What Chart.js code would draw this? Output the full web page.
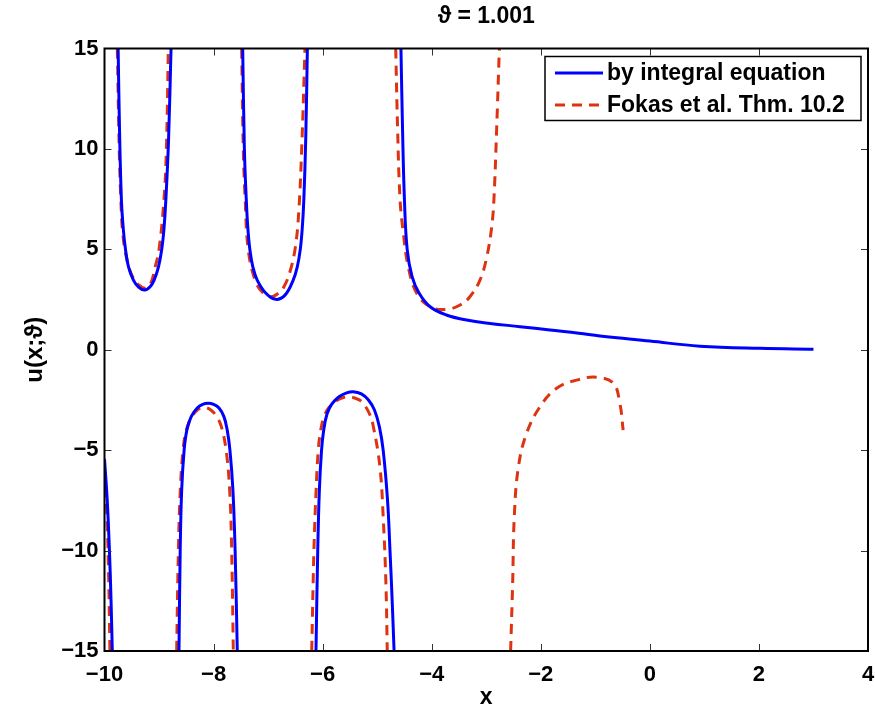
<!DOCTYPE html>
<html>
<head>
<meta charset="utf-8">
<title>u(x;theta)</title>
<script src="https://cdn.jsdelivr.net/npm/chart.js@4"></script>
<style>
  body { margin: 0; background: #fff; }
</style>
</head>
<body>
<canvas id="chart" width="875" height="705"></canvas>
<script>
// branches are separated by null
const blueX = [
  -9.75, -9.725, -9.69, -9.655, -9.615, -9.56, -9.47, -9.37, -9.263, -9.16, -9.09, -9.01, -8.95, -8.91, -8.875, -8.825, -8.78, null,
  -7.466, -7.435, -7.40, -7.37, -7.335, -7.28, -7.20, -7.04, -6.861, -6.69, -6.54, -6.465, -6.41, -6.375, -6.345, -6.31, -6.28, null,
  -4.564, -4.535, -4.50, -4.45, -4.36, -4.23, -4.03, -3.73, -3.36, -2.93, -2.38, -1.83, -1.3, -0.915, 0, 0.917, 2.02, 3.0, null,
  -10, -9.95, -9.91, -9.88, -9.857, null,
  -8.634, -8.612, -8.585, -8.54, -8.49, -8.41, -8.30, -8.20, -8.10, -8.0, -7.90, -7.81, -7.75, -7.70, -7.645, -7.605, -7.565, null,
  -6.122, -6.09, -6.06, -6.02, -5.98, -5.92, -5.83, -5.70, -5.56, -5.44, -5.29, -5.16, -5.05, -4.96, -4.89, -4.81, -4.765, -4.725, -4.69
];
const blueY = [
  15, 11, 7.46, 6, 5, 4.13, 3.47, 3.1, 2.97, 3.15, 3.47, 4.13, 5, 6, 7.46, 10.5, 15, null,
  15, 10, 7.46, 6, 5, 4.13, 3.47, 2.81, 2.51, 2.72, 3.47, 4.13, 5, 6, 7.46, 10.5, 15, null,
  15, 11, 7.46, 5, 3.64, 2.81, 2.14, 1.73, 1.48, 1.31, 1.15, 0.98, 0.82, 0.68, 0.43, 0.18, 0.07, 0.03, null,
  -5.45, -7.5, -9.97, -12.5, -15, null,
  -15, -10, -7, -5, -4, -3.33, -2.9, -2.72, -2.67, -2.72, -2.9, -3.33, -4, -5, -7, -10, -15, null,
  -15, -10, -7, -5, -4, -3.2, -2.7, -2.34, -2.15, -2.09, -2.2, -2.5, -3.0, -3.83, -5, -7.5, -10, -12.5, -15
];
const redX = [
  -9.765, -9.73, -9.70, -9.665, -9.59, -9.48, -9.36, -9.245, -9.153, -9.07, -9.0, -8.91, -8.865, -8.83, null,
  -7.485, -7.455, -7.42, -7.365, -7.24, -7.1, -6.953, -6.82, -6.709, -6.59, -6.50, -6.44, -6.384, -6.324, null,
  -4.66, -4.625, -4.58, -4.52, -4.43, -4.275, -4.03, -3.73, -3.48, -3.3, -3.115, -2.99, -2.9, -2.86, -2.81, -2.76, null,
  -10, -9.96, -9.93, -9.90, null,
  -8.677, -8.645, -8.61, -8.56, -8.50, -8.41, -8.30, -8.176, -8.05, -7.95, -7.86, -7.77, -7.705, -7.668, -7.638, null,
  -6.2, -6.16, -6.12, -6.08, -6.035, -5.97, -5.89, -5.78, -5.62, -5.48, -5.33, -5.255, -5.14, -5.07, -4.95, -4.89, -4.84, -4.815, null,
  -2.553, -2.516, -2.486, -2.41, -2.26, -2.015, -1.71, -1.34, -0.975, -0.67, -0.55, -0.49
];
const redY = [
  15, 10, 7.46, 5.8, 4.5, 3.6, 3.2, 3.06, 3.3, 4.13, 5, 7.46, 10, 15, null,
  15, 10, 7.46, 5, 3.47, 2.85, 2.64, 2.8, 3.14, 3.97, 5.12, 6.78, 10, 15, null,
  15, 10.94, 7.46, 5.8, 4.13, 2.81, 2.14, 2.01, 2.23, 2.64, 3.47, 4.63, 6.12, 7.46, 10.94, 15, null,
  -6.0, -8, -10.5, -15, null,
  -15, -10, -7, -5, -4, -3.4, -3.0, -2.87, -3.0, -3.3, -3.8, -5, -7, -10, -15, null,
  -15, -10, -7, -5, -4, -3.3, -2.9, -2.6, -2.38, -2.36, -2.5, -2.67, -3.2, -3.83, -5.83, -8.32, -11.63, -15, null,
  -15, -11.63, -8.32, -5.83, -4.16, -2.84, -1.92, -1.51, -1.37, -1.67, -2.67, -4.0
];
const seriesLabels = ['by integral equation', 'Fokas et al. Thm. 10.2'];
const xTicks = [-10, -8, -6, -4, -2, 0, 2, 4];
const yTicks = [-15, -10, -5, 0, 5, 10, 15];

const FONT = "'Liberation Sans', Arial, Helvetica, sans-serif";
const BLUE = '#0000FF';
const RED = '#DD3311';

function toPoints(xs, ys) {
    return xs.map((x, i) => ({ x: x === null ? NaN : x, y: ys[i] }));
}

function minus(v) {
    return String(v).replace('-', '\u2212');
}

// box with inward ticks, matlab style
const frame = {
    id: 'frame',
    afterDatasetsDraw(chart) {
        const { ctx, chartArea: a, scales: { x, y } } = chart;
        ctx.save();
        ctx.strokeStyle = '#333';
        ctx.lineWidth = 1;
        ctx.beginPath();
        xTicks.slice(1, -1).forEach(v => {
            const px = Math.round(x.getPixelForValue(v)) + 0.5;
            ctx.moveTo(px, a.bottom); ctx.lineTo(px, a.bottom - 7);
            ctx.moveTo(px, a.top); ctx.lineTo(px, a.top + 7);
        });
        yTicks.slice(1, -1).forEach(v => {
            const py = Math.round(y.getPixelForValue(v)) + 0.5;
            ctx.moveTo(a.left, py); ctx.lineTo(a.left + 7, py);
            ctx.moveTo(a.right, py); ctx.lineTo(a.right - 7, py);
        });
        ctx.stroke();
        ctx.strokeStyle = '#000';
        ctx.lineWidth = 2;
        ctx.strokeRect(a.left, a.top, a.right - a.left, a.bottom - a.top);
        ctx.restore();
    }
};

const boxLegend = {
    id: 'boxLegend',
    afterDraw(chart) {
        const { ctx, chartArea: a } = chart;
        const right = a.right - 7, top = a.top + 8;
        const w = 316, h = 64;
        const left = right - w;
        ctx.save();
        ctx.fillStyle = '#fff';
        ctx.fillRect(left, top, w, h);
        ctx.strokeStyle = '#000';
        ctx.lineWidth = 1.5;
        ctx.strokeRect(left, top, w, h);
        chart.data.datasets.forEach((ds, i) => {
            const cy = top + 16.5 + i * 32;
            ctx.beginPath();
            ctx.strokeStyle = ds.borderColor;
            ctx.lineWidth = 3;
            ctx.setLineDash(ds.borderDash || []);
            ctx.moveTo(left + 10, cy);
            ctx.lineTo(left + 58, cy);
            ctx.stroke();
            ctx.setLineDash([]);
            ctx.fillStyle = '#000';
            ctx.font = 'bold 23px ' + FONT;
            ctx.textBaseline = 'middle';
            ctx.textAlign = 'left';
            ctx.fillText(ds.label, left + 62, cy + 1);
        });
        ctx.restore();
    }
};

new Chart(document.getElementById('chart').getContext('2d'), {
    type: 'scatter',
    data: {
        datasets: [{
            label: seriesLabels[0],
            data: toPoints(blueX, blueY),
            showLine: true,
            borderColor: BLUE,
            borderWidth: 3,
            pointRadius: 0,
            tension: 0.4,
            spanGaps: false
        }, {
            label: seriesLabels[1],
            data: toPoints(redX, redY),
            showLine: true,
            borderColor: RED,
            borderWidth: 3,
            borderDash: [10, 7],
            pointRadius: 0,
            tension: 0.4,
            spanGaps: false
        }]
    },
    options: {
        responsive: false,
        animation: false,
        layout: { padding: { left: 0, right: 7, top: 0, bottom: 0 } },
        plugins: {
            legend: { display: false },
            tooltip: { enabled: false },
            title: {
                display: true,
                fullSize: false,
                text: '\u03D1 = 1.001',
                color: '#000',
                font: { family: FONT, size: 23, weight: 'bold' },
                padding: { top: 3, bottom: 17.9 }
            }
        },
        scales: {
            x: {
                type: 'linear',
                min: -10,
                max: 4,
                afterFit: s => { s.height = 54; s.paddingLeft = 0; s.paddingRight = 0; },
                afterBuildTicks: s => { s.ticks = xTicks.map(v => ({ value: v })); },
                grid: { display: false, drawTicks: false },
                border: { display: false },
                ticks: {
                    color: '#000',
                    padding: 11,
                    maxRotation: 0,
                    font: { family: FONT, size: 22, weight: 'bold' },
                    callback: v => minus(v)
                },
                title: {
                    display: true,
                    text: 'x',
                    color: '#000',
                    font: { family: FONT, size: 23, weight: 'bold' },
                    padding: { top: 0, bottom: -6 }
                }
            },
            y: {
                type: 'linear',
                min: -15,
                max: 15,
                afterFit: s => { s.width = 104.5; s.paddingTop = 0; s.paddingBottom = 0; },
                afterBuildTicks: s => { s.ticks = yTicks.map(v => ({ value: v })); },
                grid: { display: false, drawTicks: false },
                border: { display: false },
                ticks: {
                    color: '#000',
                    padding: 6,
                    font: { family: FONT, size: 22, weight: 'bold' },
                    callback: v => minus(v)
                },
                title: {
                    display: true,
                    text: 'u(x;\u03D1)',
                    color: '#000',
                    font: { family: FONT, size: 24, weight: 'bold' },
                    padding: { top: 21, bottom: 0 }
                }
            }
        }
    },
    plugins: [frame, boxLegend]
});
</script>
</body>
</html>
